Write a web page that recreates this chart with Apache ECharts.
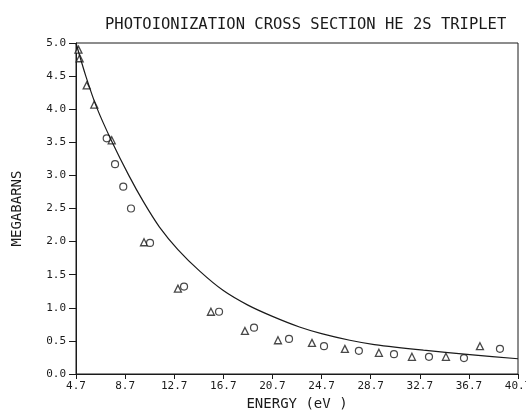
<!DOCTYPE html>
<html>
<head>
<meta charset="utf-8">
<script src="https://cdn.jsdelivr.net/npm/echarts@6/dist/echarts.min.js"></script>
<style>
html,body{margin:0;padding:0;background:#fff;}
#chart{width:526px;height:412px;}
</style>
</head>
<body>
<div id="chart"></div>
<script>
// 读图得到的数据 (energy eV, megabarns)
var curveData = [
  [4.7, 5.0], [5.5, 4.5], [6.4, 4.02], [7.6, 3.52], [9.0, 3.0],
  [10.2, 2.6], [11.5, 2.22], [13.0, 1.88], [14.8, 1.55], [16.7, 1.26],
  [18.7, 1.04], [20.7, 0.87], [22.9, 0.71], [24.7, 0.61], [27.0, 0.51],
  [29.0, 0.445], [33.0, 0.36], [37.0, 0.29], [40.7, 0.23]
];
var triangleData = [
  [4.9, 4.9], [5.0, 4.77], [5.57, 4.36], [6.19, 4.07], [7.61, 3.53],
  [10.24, 1.99], [13.0, 1.29], [15.69, 0.94], [18.46, 0.65], [21.15, 0.51],
  [23.92, 0.47], [26.6, 0.38], [29.37, 0.32], [32.06, 0.26], [34.83, 0.26],
  [37.6, 0.42]
];
var circleData = [
  [7.2, 3.56], [7.88, 3.17], [8.55, 2.83], [9.18, 2.5], [10.73, 1.98],
  [13.5, 1.32], [16.35, 0.94], [19.2, 0.7], [22.05, 0.53], [24.9, 0.42],
  [27.74, 0.35], [30.6, 0.3], [33.45, 0.26], [36.3, 0.24], [39.23, 0.38]
];
var xTicks = [4.7, 8.7, 12.7, 16.7, 20.7, 24.7, 28.7, 32.7, 36.7, 40.7];

var font = 'DejaVu Sans Mono';
var ink = '#1a1a1a';

var chart = echarts.init(document.getElementById('chart'));
chart.setOption({
  animation: false,
  backgroundColor: '#fff',
  title: {
    text: 'PHOTOIONIZATION CROSS SECTION HE 2S TRIPLET',
    left: 100,
    top: 12,
    textStyle: { fontFamily: font, fontSize: 15.5, fontWeight: 'normal', color: ink }
  },
  grid: {
    left: 76, right: 8, top: 43, bottom: 38,
    outerBoundsMode: 'none',
    containLabel: false,
    show: true, borderColor: ink, borderWidth: 1
  },
  xAxis: {
    type: 'value',
    min: 4.7,
    max: 40.7,
    name: 'ENERGY (eV )',
    nameLocation: 'middle',
    nameGap: 17,
    nameTextStyle: { fontFamily: font, fontSize: 14, color: ink },
    axisLine: { show: true, lineStyle: { color: ink, width: 1 } },
    axisTick: { show: true, length: 5, lineStyle: { color: ink }, customValues: xTicks },
    axisLabel: {
      fontFamily: font, fontSize: 11, color: ink, margin: 7,
      customValues: xTicks,
      formatter: function (v) { return v.toFixed(1); }
    },
    splitLine: { show: false }
  },
  yAxis: {
    type: 'value',
    min: 0,
    max: 5,
    interval: 0.5,
    name: 'MEGABARNS',
    nameLocation: 'middle',
    nameGap: 52,
    nameTextStyle: { fontFamily: font, fontSize: 14, color: ink },
    axisLine: { show: true, lineStyle: { color: ink, width: 1 } },
    axisTick: { show: true, length: 7, lineStyle: { color: ink } },
    axisLabel: {
      fontFamily: font, fontSize: 11, color: ink, margin: 10,
      formatter: function (v) { return v.toFixed(1); }
    },
    splitLine: { show: false }
  },
  series: [
    {
      type: 'line',
      data: curveData,
      smooth: 0.3,
      showSymbol: false,
      lineStyle: { color: ink, width: 1.2 }
    },
    {
      type: 'scatter',
      data: triangleData,
      symbol: 'triangle',
      symbolSize: 7,
      itemStyle: { color: '#fff', borderColor: ink, borderWidth: 1.3 }
    },
    {
      type: 'scatter',
      data: circleData,
      symbol: 'circle',
      symbolSize: 7,
      itemStyle: { color: '#fff', borderColor: ink, borderWidth: 1.2 }
    }
  ]
});
</script>
</body>
</html>
